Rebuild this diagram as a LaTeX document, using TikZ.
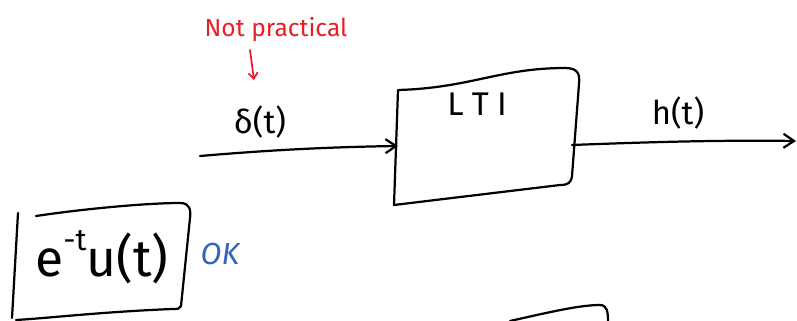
\documentclass[tikz,border=0pt]{standalone}
\usepackage{fontspec}
\setmainfont{Fira Sans}
\usetikzlibrary{arrows.meta}
\definecolor{inkred}{RGB}{230,30,40}
\definecolor{inkblue}{RGB}{50,100,190}
\begin{document}
\begin{tikzpicture}[x=0.03cm,y=-0.03cm,
  ink/.style={line width=1.9pt,line cap=round,line join=round,black},
  redink/.style={line width=1.5pt,line cap=round,line join=round,inkred},
  hand/.style={font=\fontsize{28}{32}\selectfont,inner sep=0pt},
  openhead/.style={-{Straight Barb[length=9pt,width=12pt,line width=1.9pt]}}]
\useasboundingbox (0,0) rectangle (797,321);
% LTI box
\draw[ink] (398,90) .. controls (470,88) and (500,68) .. (565,68) .. controls (578,68) and (580,74) .. (579,84)
  -- (572,176) .. controls (571,183) and (568,185) .. (560,185)
  -- (394,205) -- (398,90);
\coordinate (ltiin) at (398,146);
\coordinate (ltiout) at (572,145);
\node[hand] (lti) at (477,104) {L\hspace{0.25em}T\hspace{0.25em}I};
% input
\coordinate (src) at (200,156);
\draw[ink,openhead] (src) .. controls (270,150) and (330,147) .. (ltiin);
\node[hand] (delta) at (260,122) {δ(t)};
% output
\coordinate (sink) at (796,141);
\draw[ink,openhead] (ltiout) .. controls (650,142) and (720,140) .. (sink);
\node[hand] (h) at (678,113) {h(t)};
% not practical
\node[font=\fontsize{21}{24}\selectfont,text=inkred,inner sep=0pt] (np) at (276,30) {Not practical};
\coordinate (nptip) at (254,80);
\draw[redink,-{Straight Barb[length=5pt,width=8pt,line width=1.5pt]}] (250,50) -- (nptip);
% e^{-t}u(t) box
\draw[ink] (18,213) -- (12,318);
\draw[ink] (36,216) .. controls (90,208) and (150,203) .. (180,203) .. controls (190,203) and (191,210) .. (190,218)
  -- (181,306) .. controls (180,309) and (178,309) .. (172,309)
  .. controls (100,312) and (50,318) .. (16,320);
\node[font=\fontsize{44}{50}\selectfont,inner sep=0pt] (sig) at (102,257) {e\raisebox{0.5em}{\fontsize{26}{28}\selectfont -t}u(t)};
\node[font=\fontsize{26}{30}\selectfont\itshape,text=inkblue,inner sep=0pt] (ok) at (220,254) {OK};
% partial bottom shape
\draw[ink] (510,321) .. controls (550,312) and (580,305) .. (600,305) .. controls (607,305) and (608,312) .. (608,321);
\end{tikzpicture}
\end{document}
